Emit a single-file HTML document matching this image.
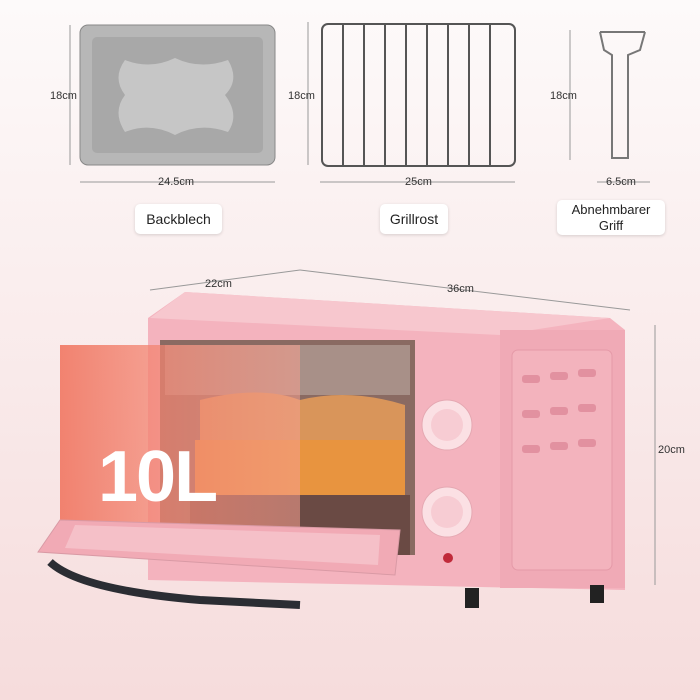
<!DOCTYPE html>
<html><head><meta charset="utf-8"><style>
body{margin:0;width:700px;height:700px;overflow:hidden;font-family:"Liberation Sans",sans-serif;}
.bg{position:absolute;inset:0;background:linear-gradient(#fdfafa 0%,#faeeee 40%,#f6dcdc 100%);}
.t{position:absolute;font-size:11px;color:#333;}
.lab{position:absolute;background:#fff;border-radius:5px;font-size:14px;color:#222;text-align:center;box-shadow:0 1px 3px rgba(0,0,0,.15);}
</style></head><body><div class="bg"></div>
<svg width="700" height="700" style="position:absolute;left:0;top:0">
<defs><linearGradient id="og" x1="0" y1="0" x2="1" y2="0"><stop offset="0" stop-color="#f0705a" stop-opacity=".85"/><stop offset="1" stop-color="#f6a090" stop-opacity=".55"/></linearGradient></defs>
<g stroke="#999" stroke-width="1">
<line x1="70" y1="25" x2="70" y2="165"/><line x1="80" y1="182" x2="275" y2="182"/>
<line x1="308" y1="22" x2="308" y2="165"/><line x1="320" y1="182" x2="515" y2="182"/>
<line x1="570" y1="30" x2="570" y2="160"/><line x1="597" y1="182" x2="650" y2="182"/>
<line x1="150" y1="290" x2="300" y2="270"/><line x1="300" y1="270" x2="630" y2="310"/>
<line x1="655" y1="325" x2="655" y2="585"/>
</g>
<rect x="80" y="25" width="195" height="140" rx="8" fill="#b7b7b7" stroke="#888"/>
<rect x="92" y="37" width="171" height="116" rx="5" fill="#a8a8a8"/>
<path d="M125 60 Q150 70 175 58 Q200 70 228 60 Q240 80 225 95 Q240 115 228 132 Q200 122 175 135 Q150 122 125 132 Q112 112 125 95 Q112 78 125 60Z" fill="#c6c6c6"/>
<rect x="322" y="24" width="193" height="142" rx="6" fill="none" stroke="#555" stroke-width="2"/>
<g stroke="#555" stroke-width="2">
<line x1="343" y1="24" x2="343" y2="166"/><line x1="364" y1="24" x2="364" y2="166"/><line x1="385" y1="24" x2="385" y2="166"/><line x1="406" y1="24" x2="406" y2="166"/><line x1="427" y1="24" x2="427" y2="166"/><line x1="448" y1="24" x2="448" y2="166"/><line x1="469" y1="24" x2="469" y2="166"/><line x1="490" y1="24" x2="490" y2="166"/>
</g>
<g stroke="#777" stroke-width="2" fill="none">
<path d="M600 32 L645 32 M600 32 L604 50 L612 55 L612 158 L628 158 L628 55 L640 50 L645 32"/>
</g>
<path d="M148 318 L185 292 L610 318 L625 330 L625 590 L148 580 Z" fill="#f4b3be"/>
<path d="M185 292 L610 318 L500 335 L150 318 Z" fill="#f7c7ce"/>
<rect x="500" y="330" width="125" height="258" fill="#f0aab6"/>
<rect x="512" y="350" width="100" height="220" rx="6" fill="#f3b3bd" stroke="#e59aa8"/>
<g fill="#e291a0">
<rect x="522" y="375" width="18" height="8" rx="3"/><rect x="550" y="372" width="18" height="8" rx="3"/><rect x="578" y="369" width="18" height="8" rx="3"/>
<rect x="522" y="410" width="18" height="8" rx="3"/><rect x="550" y="407" width="18" height="8" rx="3"/><rect x="578" y="404" width="18" height="8" rx="3"/>
<rect x="522" y="445" width="18" height="8" rx="3"/><rect x="550" y="442" width="18" height="8" rx="3"/><rect x="578" y="439" width="18" height="8" rx="3"/>
</g>
<rect x="160" y="340" width="255" height="215" fill="#8a6a62"/>
<rect x="165" y="345" width="245" height="50" fill="#a89088"/>
<path d="M200 400 Q260 385 300 400 Q350 388 405 405 L405 440 L200 440Z" fill="#d9955a"/>
<rect x="195" y="440" width="210" height="55" fill="#e8943f"/>
<rect x="190" y="495" width="220" height="60" fill="#6a4a44"/>
<circle cx="447" cy="425" r="25" fill="#fbe0e4" stroke="#e5a8b2"/><circle cx="447" cy="425" r="16" fill="#f7ccd3"/>
<circle cx="447" cy="512" r="25" fill="#fbe0e4" stroke="#e5a8b2"/><circle cx="447" cy="512" r="16" fill="#f7ccd3"/>
<circle cx="448" cy="558" r="5" fill="#c02a3a"/>
<rect x="465" y="588" width="14" height="20" fill="#222"/><rect x="590" y="585" width="14" height="18" fill="#222"/>
<rect x="60" y="345" width="240" height="185" fill="url(#og)"/>
<path d="M60 520 L400 530 L395 575 L38 552Z" fill="#f1aab5" stroke="#d99aa5"/>
<path d="M75 525 L380 535 L378 565 L65 548Z" fill="#f5c0c8"/>
<path d="M50 562 Q80 590 200 600 L300 605" stroke="#2b2d33" stroke-width="8" fill="none"/>
</svg>
<div class="t" style="left:50px;top:90px">18cm</div>
<div class="t" style="left:158px;top:176px">24.5cm</div>
<div class="t" style="left:288px;top:90px">18cm</div>
<div class="t" style="left:405px;top:176px">25cm</div>
<div class="t" style="left:550px;top:90px">18cm</div>
<div class="t" style="left:606px;top:176px">6.5cm</div>
<div class="t" style="left:205px;top:278px">22cm</div>
<div class="t" style="left:447px;top:283px">36cm</div>
<div class="t" style="left:658px;top:444px">20cm</div>
<div class="lab" style="left:135px;top:204px;width:87px;height:30px;line-height:30px">Backblech</div>
<div class="lab" style="left:380px;top:204px;width:68px;height:30px;line-height:30px">Grillrost</div>
<div class="lab" style="left:557px;top:200px;width:108px;height:35px;font-size:13px;line-height:16px;padding-top:2px;box-sizing:border-box">Abnehmbarer<br>Griff</div>
<div style="position:absolute;left:98px;top:436px;font-size:72px;font-weight:bold;color:#fff;letter-spacing:-2px">10L</div>
</body></html>
